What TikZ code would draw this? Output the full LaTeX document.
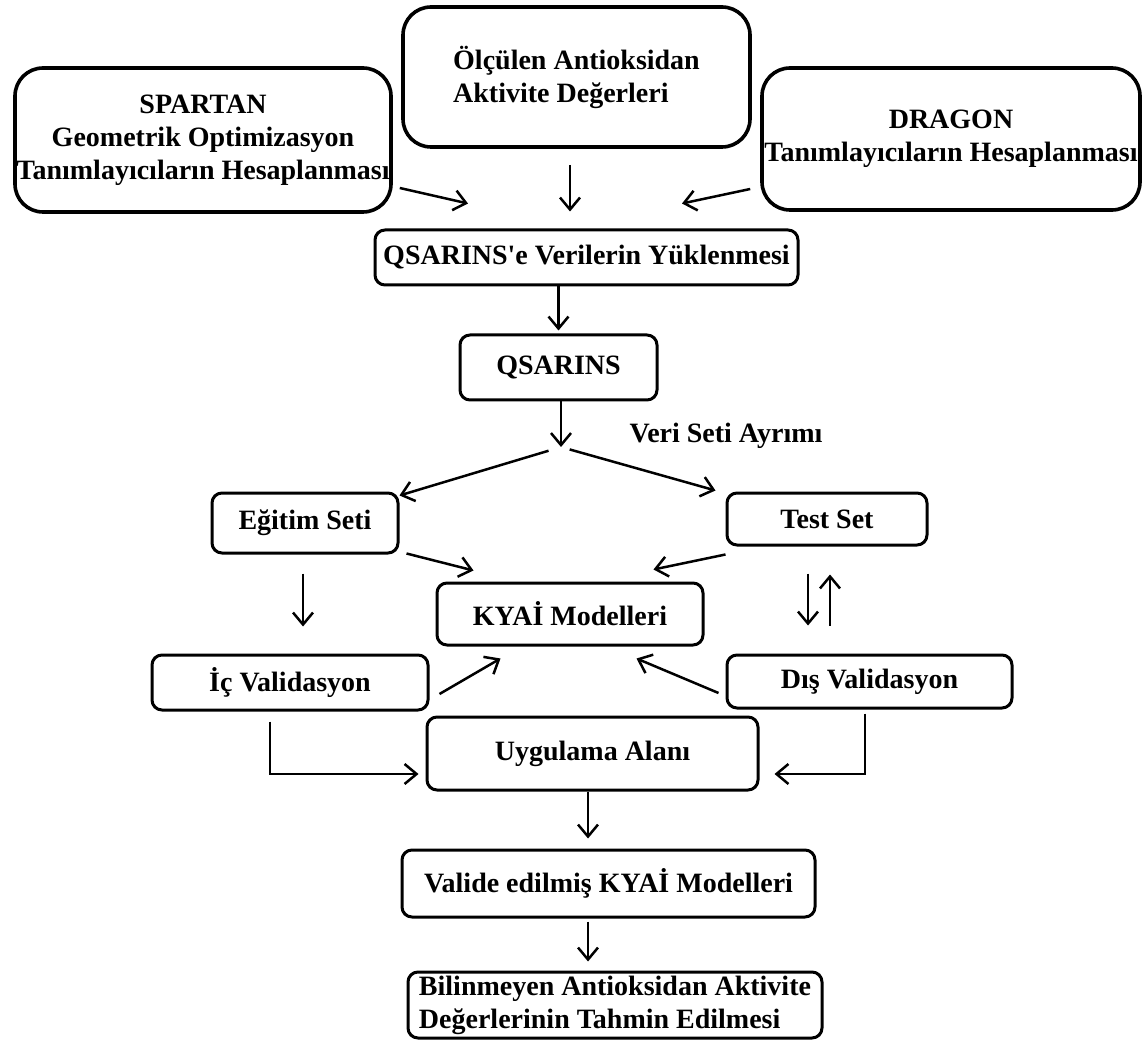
\documentclass[tikz,border=0pt]{standalone}
\usepackage{fontspec}
\setmainfont{Liberation Serif}
\usetikzlibrary{arrows.meta}

\begin{document}
\begin{tikzpicture}[x=0.5pt, y=-0.5pt,
    bigbox/.style={rectangle, draw, line width=1.8pt, rounded corners=14pt, align=center, inner sep=0pt, font=\fontsize{14}{16.5}\selectfont\bfseries},
    box/.style={rectangle, draw, line width=1.5pt, rounded corners=5pt, align=center, inner sep=0pt, font=\fontsize{14}{16.5}\selectfont\bfseries},
    arr/.style={draw, line width=1.25pt, -{Straight Barb[length=6pt, width=10pt]}}]
\useasboundingbox (0,0) rectangle (1147,1043);

% input boxes
\node[bigbox, minimum width=188pt, minimum height=72pt] (spartan) at (203,140) {SPARTAN\\Geometrik Optimizasyon\\Tanımlayıcıların Hesaplanması};
\node[bigbox, minimum width=173.5pt, minimum height=70pt, align=left] (olcum) at (576.5,77) {Ölçülen Antioksidan\\Aktivite Değerleri};
\node[bigbox, minimum width=189pt, minimum height=71pt] (dragon) at (951,139) {DRAGON\\Tanımlayıcıların Hesaplanması};

% flow boxes
\node[box, minimum width=211.5pt, minimum height=27.5pt] (yukle) at (586.5,257.5) {QSARINS\textquotesingle e Verilerin Yüklenmesi};
\node[box, minimum width=98.5pt, minimum height=32.5pt] (qsarins) at (558.5,367.5) {QSARINS};
\coordinate (split) at (561,447);
\node[font=\fontsize{14}{16.5}\selectfont\bfseries] (ayrim) at (726,436) {Veri Seti Ayrımı};
\node[box, minimum width=93pt, minimum height=30pt] (egitim) at (305,523) {Eğitim Seti};
\node[box, minimum width=100pt, minimum height=26pt] (testset) at (827,519) {Test Set};
\node[box, minimum width=133pt, minimum height=31pt] (kyai) at (570,614) {KYAİ Modelleri};
\node[box, minimum width=138pt, minimum height=27.5pt] (ic) at (290,682.5) {İç Validasyon};
\node[box, minimum width=142.5pt, minimum height=26.5pt] (dis) at (869.5,681.5) {Dış Validasyon};
\node[box, minimum width=165.5pt, minimum height=36.5pt] (uygulama) at (592.5,753.5) {Uygulama Alanı};
\node[box, minimum width=206.5pt, minimum height=33.5pt] (valide) at (608.5,883.5) {Valide edilmiş KYAİ Modelleri};
\node[box, minimum width=207pt, minimum height=33pt, align=left] (bilinmeyen) at (615,1005) {Bilinmeyen Antioksidan Aktivite\\Değerlerinin Tahmin Edilmesi};

% connectors
\draw[arr] ([shift={(7,48)}]spartan.east) -- ([shift={(-118.5,-25)}]yukle.north);
\draw[arr] ([shift={(-6.5,16)}]olcum.south) -- ([shift={(-16.5,-17)}]yukle.north);
\draw[arr] ([shift={(-10,50)}]dragon.west) -- ([shift={(95.5,-25)}]yukle.north);
\draw[arr] (yukle.south -| qsarins.north) -- ([shift={(0,-3)}]qsarins.north);
\draw[arr] (qsarins.south -| split) -- (split);
\draw[arr, shorten <=6.5pt] (split) -- ([shift={(0,4)}]egitim.north east);
\draw[arr, shorten <=4.5pt] (split) -- ([shift={(-10,-1)}]testset.north west);
\draw[arr] ([shift={(7,-1)}]egitim.south east) -- ([shift={(38,-11)}]kyai.north west);
\draw[arr] ([shift={(0,8)}]testset.south west) -- ([shift={(-51,-12)}]kyai.north east);
\draw[arr] ([shift={(-2,19)}]egitim.south) -- ([shift={(13,-27)}]ic.north);
\draw[arr] ([shift={(-19,27)}]testset.south) -- ([shift={(-61.5,-28)}]dis.north);
\draw[arr] ([shift={(-39.5,-28)}]dis.north) -- ([shift={(3,28)}]testset.south);
\draw[arr] ([shift={(10,11.5)}]ic.east) -- ([shift={(65,12)}]kyai.south west);
\draw[arr] ([shift={(-7,11.5)}]dis.west) -- ([shift={(-68,12)}]kyai.south east);
\draw[arr] ([shift={(-20,10)}]ic.south) |- ([shift={(-7,20.5)}]uygulama.west);
\draw[arr] ([shift={(-4.5,4)}]dis.south) |- ([shift={(15,20.5)}]uygulama.east);
\draw[arr] ([shift={(-4.5,0)}]uygulama.south) -- ([shift={(-20.5,-10)}]valide.north);
\draw[arr] ([shift={(-20.5,3)}]valide.south) -- ([shift={(-27,-9)}]bilinmeyen.north);
\end{tikzpicture}
\end{document}
